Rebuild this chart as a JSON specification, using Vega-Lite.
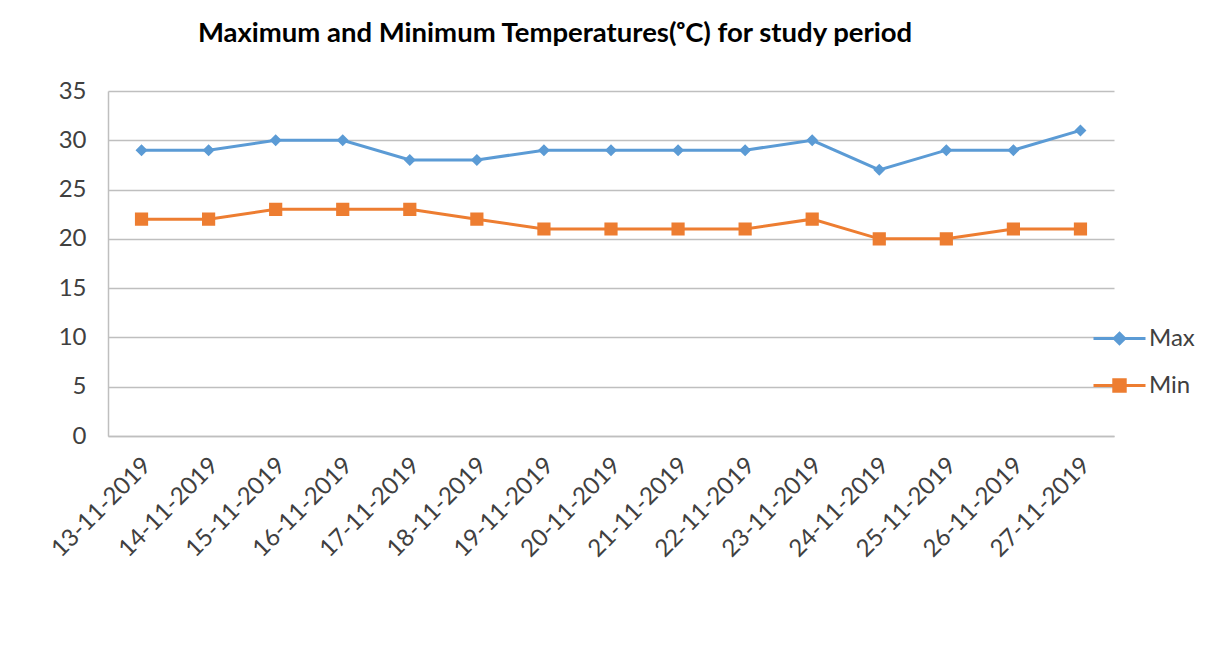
{
  "$schema": "https://vega.github.io/schema/vega-lite/v6.json",
  "width": 1006,
  "height": 345,
  "autosize": "none",
  "padding": {"left": 108, "top": 91, "right": 106, "bottom": 222},
  "background": "white",
  "config": {
    "font": "Lato",
    "view": {"stroke": null},
    "axis": {"labelColor": "#404040", "labelFont": "Lato", "domainColor": "#BFBFBF", "domainWidth": 1.5, "ticks": false, "title": null}
  },
  "title": {
    "text": "Maximum and Minimum Temperatures(ᵒC) for  study period",
    "font": "Lato",
    "fontSize": 27.5,
    "fontWeight": "bold",
    "color": "#000000",
    "anchor": "middle",
    "dx": -56,
    "offset": 32
  },
  "data": {
    "values": [
      {"date": "13-11-2019", "series": "Max", "temp": 29},
      {"date": "14-11-2019", "series": "Max", "temp": 29},
      {"date": "15-11-2019", "series": "Max", "temp": 30},
      {"date": "16-11-2019", "series": "Max", "temp": 30},
      {"date": "17-11-2019", "series": "Max", "temp": 28},
      {"date": "18-11-2019", "series": "Max", "temp": 28},
      {"date": "19-11-2019", "series": "Max", "temp": 29},
      {"date": "20-11-2019", "series": "Max", "temp": 29},
      {"date": "21-11-2019", "series": "Max", "temp": 29},
      {"date": "22-11-2019", "series": "Max", "temp": 29},
      {"date": "23-11-2019", "series": "Max", "temp": 30},
      {"date": "24-11-2019", "series": "Max", "temp": 27},
      {"date": "25-11-2019", "series": "Max", "temp": 29},
      {"date": "26-11-2019", "series": "Max", "temp": 29},
      {"date": "27-11-2019", "series": "Max", "temp": 31},
      {"date": "13-11-2019", "series": "Min", "temp": 22},
      {"date": "14-11-2019", "series": "Min", "temp": 22},
      {"date": "15-11-2019", "series": "Min", "temp": 23},
      {"date": "16-11-2019", "series": "Min", "temp": 23},
      {"date": "17-11-2019", "series": "Min", "temp": 23},
      {"date": "18-11-2019", "series": "Min", "temp": 22},
      {"date": "19-11-2019", "series": "Min", "temp": 21},
      {"date": "20-11-2019", "series": "Min", "temp": 21},
      {"date": "21-11-2019", "series": "Min", "temp": 21},
      {"date": "22-11-2019", "series": "Min", "temp": 21},
      {"date": "23-11-2019", "series": "Min", "temp": 22},
      {"date": "24-11-2019", "series": "Min", "temp": 20},
      {"date": "25-11-2019", "series": "Min", "temp": 20},
      {"date": "26-11-2019", "series": "Min", "temp": 21},
      {"date": "27-11-2019", "series": "Min", "temp": 21}
    ]
  },
  "encoding": {
    "x": {
      "field": "date",
      "type": "ordinal",
      "sort": null,
      "scale": {"type": "point", "padding": 0.5},
      "axis": {"labelAngle": -45, "labelFontSize": 24, "labelPadding": 17, "labelOffset": -3, "grid": false}
    },
    "y": {
      "field": "temp",
      "type": "quantitative",
      "scale": {"domain": [0, 35], "nice": false},
      "axis": {"values": [0, 5, 10, 15, 20, 25, 30, 35], "labelFontSize": 24, "labelPadding": 22, "grid": true, "gridColor": "#BFBFBF", "gridWidth": 1.5}
    }
  },
  "layer": [
    {
      "mark": {"type": "line", "strokeWidth": 3},
      "encoding": {
        "color": {"field": "series", "type": "nominal", "scale": {"domain": ["Max", "Min"], "range": ["#5B9BD5", "#ED7D31"]}, "legend": null}
      }
    },
    {
      "mark": {"type": "point", "filled": true, "strokeWidth": 0, "opacity": 1, "size": 3600},
      "encoding": {
        "fill": {"field": "series", "type": "nominal", "scale": {"range": ["#5B9BD5", "#ED7D31"]}},
        "stroke": {"field": "series", "type": "nominal", "scale": {"range": ["#5B9BD5", "#ED7D31"]}},
        "shape": {
          "field": "series",
          "type": "nominal",
          "scale": {"range": ["M-1,0H1M0,-0.2L0.2,0L0,0.2L-0.2,0Z", "M-1,0H1M-0.22,-0.22H0.22V0.22H-0.22Z"]},
          "legend": {
            "title": null,
            "orient": "none",
            "legendX": 984,
            "legendY": 220,
            "symbolSize": 2704,
            "symbolStrokeWidth": 3,
            "labelFontSize": 24,
            "labelColor": "#404040",
            "labelFont": "Lato",
            "labelOffset": 2,
            "rowPadding": 7,
            "encode": {"symbols": {"update": {"strokeWidth": {"value": 3}, "opacity": {"value": 1}}}}
          }
        }
      }
    }
  ]
}
